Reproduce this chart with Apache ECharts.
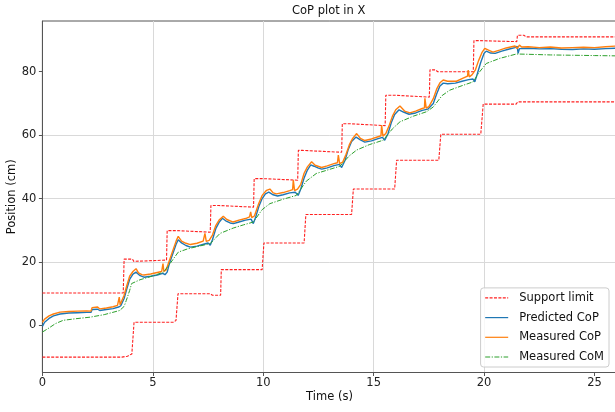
<!DOCTYPE html>
<html>
<head>
<meta charset="utf-8">
<script src="https://cdn.jsdelivr.net/npm/echarts@6/dist/echarts.min.js"></script>
<style>
  html, body { margin: 0; padding: 0; background: #fff; }
  #chart { width: 615px; height: 412px; }
</style>
</head>
<body>
<div id="chart"></div>
<script>
// Tick positions for both axes
const xTicks = [0, 5, 10, 15, 20, 25];
const yTicks = [0, 20, 40, 60, 80];

// Support polygon limits along X: [time (s), position (cm)]
const supportUpper = [
  [0, 10.2], [3.66, 10.2], [3.7, 20.9], [4.08, 20.9], [4.14, 20.2], [4.2, 20.6], [5.62, 20.6],
  [5.65, 29.9], [6.05, 29.9], [6.12, 29.4], [7.6, 29.4],
  [7.63, 37.8], [8.0, 37.8], [8.08, 37.3], [9.56, 37.3],
  [9.59, 46.3], [9.95, 46.3], [10.02, 45.8], [11.56, 45.8],
  [11.59, 55.2], [11.78, 55.2], [11.85, 54.6], [13.55, 54.6],
  [13.58, 63.6], [13.9, 63.6], [13.97, 63.0], [15.52, 63.0],
  [15.55, 72.6], [15.9, 72.6], [15.97, 72.0], [17.52, 72.0],
  [17.55, 80.6], [17.8, 80.6], [17.9, 80.0], [19.51, 80.0],
  [19.54, 89.8], [19.8, 89.8], [19.87, 89.5], [21.48, 89.5],
  [21.51, 91.5], [21.8, 91.5], [21.9, 91.0], [26, 91.0]
];
const supportLower = [
  [0, -10.0], [3.6, -10.0], [3.85, -9.7], [4.05, -9.0], [4.12, -8.4], [4.15, 1.0],
  [5.95, 1.0], [6.05, 1.6], [6.12, 1.6], [6.14, 10.0],
  [7.6, 10.0], [7.7, 9.5], [8.07, 9.5], [8.1, 17.6],
  [9.95, 17.6], [10.0, 18.0], [10.03, 26.0],
  [11.85, 26.0], [11.9, 26.5], [11.93, 35.0],
  [14.0, 35.0], [14.05, 35.5], [14.08, 43.0],
  [15.95, 43.0], [16.0, 43.6], [16.04, 52.1],
  [17.95, 52.1], [18.0, 52.6], [18.04, 60.3],
  [19.85, 60.3], [19.92, 60.8], [19.96, 69.8],
  [21.45, 69.8], [21.52, 70.5], [26, 70.5]
];

// Predicted centre of pressure
const predictedCoP = [
  [0, -0.3], [0.1, 1.0], [0.3, 2.2], [0.5, 3.0], [0.8, 3.6], [1.2, 3.9], [1.6, 4.0], [2.0, 4.1], [2.2, 4.1],
  [2.25, 5.0], [2.5, 5.1], [2.6, 4.7], [2.9, 5.0], [3.2, 5.3], [3.45, 5.8], [3.55, 6.2],
  [3.7, 8.5], [3.82, 11.5], [3.95, 14.5], [4.1, 16.2], [4.24, 16.8], [4.4, 15.8], [4.6, 15.2],
  [4.9, 15.5], [5.2, 15.9], [5.45, 16.4], [5.55, 16.0], [5.65, 16.8],
  [5.75, 19.5], [5.9, 22.5], [6.05, 25.5], [6.15, 27.0], [6.3, 26.0], [6.5, 25.2], [6.7, 24.7],
  [7.0, 25.0], [7.3, 25.6], [7.5, 26.0], [7.6, 25.3],
  [7.7, 27.0], [7.85, 30.5], [8.0, 32.5], [8.15, 33.8], [8.3, 33.0], [8.5, 32.3], [8.65, 32.1],
  [8.9, 32.6], [9.2, 33.2], [9.45, 33.5], [9.55, 32.1],
  [9.65, 34.0], [9.8, 37.5], [9.95, 40.0], [10.1, 41.5], [10.25, 42.0], [10.45, 41.2], [10.65, 40.8],
  [10.9, 41.2], [11.2, 41.8], [11.45, 42.0], [11.58, 41.0],
  [11.7, 43.0], [11.85, 46.5], [12.0, 49.0], [12.15, 50.6], [12.3, 50.2], [12.5, 49.6], [12.65, 49.3],
  [12.9, 49.7], [13.2, 50.4], [13.45, 50.8], [13.55, 49.8],
  [13.7, 52.0], [13.85, 55.5], [14.0, 58.0], [14.2, 59.4], [14.4, 58.5], [14.6, 57.8],
  [14.9, 58.2], [15.2, 58.9], [15.4, 59.3], [15.5, 58.4],
  [15.65, 60.5], [15.8, 64.0], [15.95, 66.5], [16.15, 68.0], [16.35, 67.3], [16.6, 66.6],
  [16.9, 67.0], [17.2, 67.8], [17.45, 68.2], [17.54, 67.7],
  [17.7, 70.0], [17.85, 73.0], [18.0, 75.5], [18.15, 76.4], [18.35, 76.2], [18.7, 76.4],
  [19.0, 77.0], [19.3, 77.5], [19.5, 77.7], [19.58, 76.8],
  [19.7, 79.5], [19.85, 83.0], [20.0, 85.8], [20.1, 86.5], [20.3, 85.9], [20.5, 85.8],
  [20.8, 86.5], [21.1, 87.1], [21.4, 87.6], [21.5, 88.0], [21.54, 85.8], [21.6, 87.3],
  [22.0, 87.4], [22.5, 87.2], [23.0, 87.3], [23.5, 87.1], [24.0, 87.0], [24.5, 87.2],
  [25.0, 87.1], [25.5, 87.3], [26.0, 87.4]
];

// Measured centre of pressure
const measuredCoP = [
  [0, 1.0], [0.1, 2.0], [0.3, 3.0], [0.5, 3.6], [0.8, 4.2], [1.2, 4.4], [1.6, 4.5], [2.0, 4.6], [2.2, 4.5],
  [2.25, 5.6], [2.5, 5.8], [2.6, 5.2], [2.9, 5.5], [3.2, 5.9], [3.4, 6.3], [3.48, 8.9], [3.52, 6.5], [3.6, 7.0],
  [3.7, 9.5], [3.82, 12.5], [3.95, 15.5], [4.1, 17.0], [4.24, 17.9], [4.35, 16.6], [4.5, 16.0], [4.6, 15.9],
  [4.9, 16.2], [5.2, 16.7], [5.4, 17.0], [5.46, 19.5], [5.5, 17.0], [5.6, 17.5],
  [5.75, 20.5], [5.9, 23.5], [6.05, 26.5], [6.15, 28.1], [6.3, 26.6], [6.5, 25.9], [6.7, 25.5],
  [7.0, 25.9], [7.28, 26.6], [7.36, 29.0], [7.42, 26.5], [7.55, 26.8],
  [7.7, 28.5], [7.85, 31.5], [8.0, 33.2], [8.19, 34.4], [8.35, 33.4], [8.64, 32.6],
  [8.9, 33.2], [9.2, 33.7], [9.38, 34.2], [9.43, 35.8], [9.48, 34.0], [9.6, 34.5],
  [9.8, 38.5], [9.95, 41.0], [10.15, 42.6], [10.3, 43.0], [10.45, 41.8], [10.6, 41.5],
  [10.9, 41.9], [11.2, 42.5], [11.33, 42.8], [11.36, 45.8], [11.42, 42.5], [11.55, 43.0],
  [11.7, 44.5], [11.85, 48.0], [12.0, 50.0], [12.19, 51.6], [12.35, 50.5], [12.64, 49.8],
  [12.9, 50.3], [13.2, 51.0], [13.36, 51.3], [13.4, 53.7], [13.46, 51.0], [13.6, 51.5],
  [13.75, 54.0], [13.9, 57.0], [14.05, 59.0], [14.23, 60.5], [14.4, 59.0], [14.6, 58.3],
  [14.9, 58.8], [15.2, 59.5], [15.33, 59.8], [15.36, 63.2], [15.42, 59.7], [15.55, 60.5],
  [15.7, 63.0], [15.85, 66.0], [16.0, 68.0], [16.19, 69.2], [16.4, 67.6], [16.64, 67.0],
  [16.9, 67.6], [17.2, 68.4], [17.3, 68.6], [17.32, 71.6], [17.38, 68.5], [17.5, 69.0],
  [17.7, 71.5], [17.85, 74.5], [18.0, 76.5], [18.15, 77.4], [18.35, 77.0], [18.75, 77.0],
  [19.0, 77.8], [19.25, 78.6], [19.28, 80.5], [19.33, 78.4], [19.45, 79.0],
  [19.6, 80.5], [19.75, 83.5], [19.9, 86.0], [20.03, 87.4], [20.2, 86.8], [20.4, 86.2],
  [20.7, 86.8], [21.0, 87.5], [21.4, 88.1], [21.5, 87.3], [21.6, 88.4], [21.7, 87.8],
  [22.0, 87.9], [22.5, 87.6], [23.0, 87.8], [23.5, 87.5], [24.0, 87.6], [24.5, 87.7],
  [25.0, 87.6], [25.5, 87.9], [26.0, 88.1]
];

// Measured centre of mass
const measuredCoM = [
  [0, -2.1], [0.3, -0.8], [0.6, 0.6], [0.94, 1.6], [1.5, 2.1], [2.16, 2.6], [2.8, 3.4], [3.5, 4.7],
  [3.7, 6.0], [3.8, 7.9], [3.95, 11.0], [4.04, 13.2], [4.42, 14.4], [5.0, 15.6], [5.48, 16.8],
  [5.78, 19.5], [6.15, 23.1], [6.6, 24.2], [7.1, 25.0], [7.6, 25.8],
  [8.04, 29.0], [8.64, 30.7], [9.1, 31.7], [9.55, 32.6],
  [9.95, 36.5], [10.3, 38.4], [10.9, 39.8], [11.5, 41.0],
  [11.95, 45.5], [12.4, 47.9], [13.0, 49.2], [13.47, 50.2],
  [13.9, 53.5], [14.23, 55.3], [14.8, 57.0], [15.43, 58.4],
  [15.85, 62.0], [16.19, 64.2], [16.8, 66.0], [17.4, 67.4], [17.7, 68.9],
  [18.1, 72.5], [18.45, 74.2], [19.0, 75.6], [19.5, 76.8],
  [19.8, 80.0], [20.1, 82.6], [20.7, 84.2], [21.47, 85.6],
  [22.0, 85.5], [23.0, 85.3], [24.0, 85.2], [25.0, 85.1], [26.0, 85.0]
];

const FONT = 'DejaVu Sans';
const chart = echarts.init(document.getElementById('chart'), null, { renderer: 'canvas' });

const lineSeries = (name, data, color, width, type, z) => ({
  name, type: 'line', data, symbol: 'none', z,
  lineStyle: { color, width, type },
  itemStyle: { color },
  emphasis: { disabled: true }
});

chart.setOption({
  animation: false,
  backgroundColor: '#ffffff',
  title: {
    text: 'CoP plot in X',
    left: 292, top: 5, padding: 0,
    textStyle: { fontFamily: FONT, fontSize: 11.5, fontWeight: 'normal', color: '#111' }
  },
  grid: {
    left: 42.4, top: 21, width: 574.2, height: 351.5,
    containLabel: false, outerBoundsMode: 'none',
    show: true, borderColor: '#555', borderWidth: 1, backgroundColor: 'transparent'
  },
  legend: {
    orient: 'vertical',
    right: 6, bottom: 45,
    padding: [4, 5, 4, 4],
    itemWidth: 23, itemHeight: 10, itemGap: 7.7,
    // keep the line sample, hide the marker drawn in its middle
    itemStyle: { opacity: 0, color: 'rgba(0,0,0,0)', borderWidth: 0 },
    lineStyle: { width: 1.2 },
    backgroundColor: 'rgba(255,255,255,0.8)',
    borderColor: '#cccccc', borderWidth: 1, borderRadius: 3,
    data: ['Support limit', 'Predicted CoP', 'Measured CoP', 'Measured CoM'],
    textStyle: { fontFamily: FONT, fontSize: 11.5, color: '#111', padding: [0, 0, 0, 6] }
  },
  xAxis: {
    type: 'value', min: 0, max: 26, interval: 5,
    name: 'Time (s)', nameLocation: 'middle', nameGap: 19,
    nameMoveOverlap: false,
    nameTextStyle: { fontFamily: FONT, fontSize: 11.5, color: '#111' },
    axisLine: { show: true, onZero: false, lineStyle: { color: '#555', width: 1 } },
    axisTick: { show: true, length: 3.5, customValues: xTicks, lineStyle: { color: '#555' } },
    axisLabel: { customValues: xTicks, margin: 5, fontFamily: FONT, fontSize: 11.5, color: '#222' },
    splitLine: { show: true, showMaxLine: false, showMinLine: false, lineStyle: { color: '#d9d9d9', width: 1 } }
  },
  yAxis: {
    type: 'value', min: -14.85, max: 96, splitNumber: 5,
    name: 'Position (cm)', nameLocation: 'middle', nameGap: 24,
    nameMoveOverlap: false,
    nameTextStyle: { fontFamily: FONT, fontSize: 11.5, color: '#111' },
    axisLine: { show: true, onZero: false, lineStyle: { color: '#555', width: 1 } },
    axisTick: { show: true, length: 3.5, customValues: yTicks, lineStyle: { color: '#555' } },
    axisLabel: { customValues: yTicks, margin: 6, fontFamily: FONT, fontSize: 11.5, color: '#222' },
    splitLine: { show: true, showMaxLine: false, showMinLine: false, lineStyle: { color: '#d9d9d9', width: 1 } }
  },
  series: [
    lineSeries('Support limit', supportUpper, '#ff2020', 1.1, [3, 1.4], 2),
    lineSeries('Support limit', supportLower, '#ff2020', 1.1, [3, 1.4], 2),
    lineSeries('Predicted CoP', predictedCoP, '#1f77b4', 1.4, 'solid', 3),
    lineSeries('Measured CoP', measuredCoP, '#ff7f0e', 1.4, 'solid', 4),
    lineSeries('Measured CoM', measuredCoM, '#2ca02c', 1, [5, 1.5, 1.2, 1.5], 5)
  ]
});
</script>
</body>
</html>
